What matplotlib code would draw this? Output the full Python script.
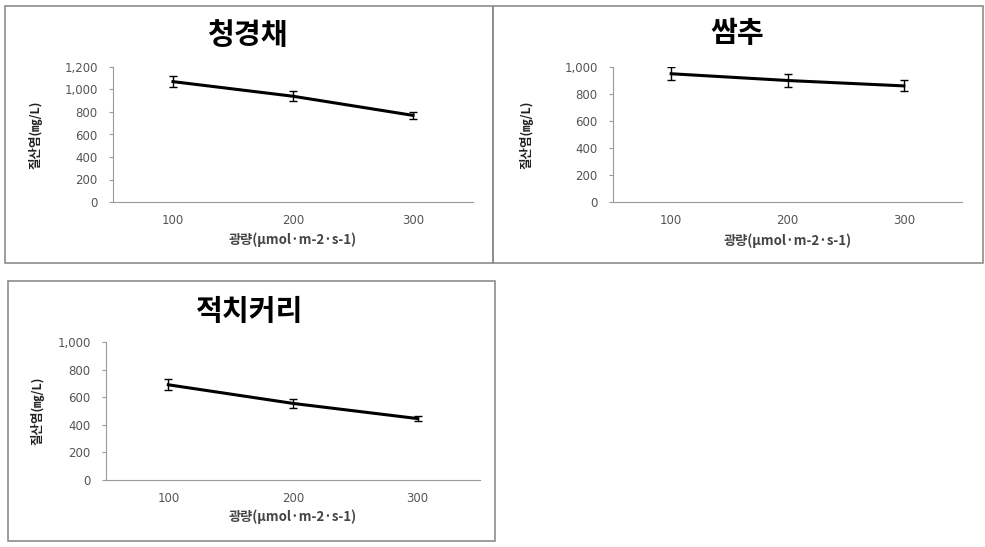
import matplotlib
matplotlib.use("Agg")
import matplotlib.pyplot as plt
from matplotlib.patches import Rectangle

plt.rcParams['font.family'] = ['Noto Sans CJK KR', 'DejaVu Sans']

W, H = 985, 547

light = ['100', '200', '300']

# 청경채
cg_mean = [1070, 940, 770]
cg_err = [50, 45, 30]
# 쌈추
ss_mean = [950, 900, 860]
ss_err = [50, 45, 40]
# 적치커리
cc_mean = [690, 555, 445]
cc_err = [40, 30, 20]

titles = ['청경채', '쌈추', '적치커리']
ylims = [1200, 1000, 1000]

# panel box (left, top, right, bottom) in px, axes box, title pos, ylabel x, xlabel y
panels = [
    dict(box=(5, 6, 493, 263), ax=(113, 67, 473, 202), title=(247, 35), ylab=35, xlab=240),
    dict(box=(493, 6, 983, 263), ax=(613, 67, 962, 202), title=(737, 33), ylab=526, xlab=241),
    dict(box=(8, 281, 495, 541), ax=(106, 342, 480, 480), title=(250, 311), ylab=37, xlab=517),
]
series = [(cg_mean, cg_err), (ss_mean, ss_err), (cc_mean, cc_err)]

fig = plt.figure(figsize=(W / 100, H / 100), dpi=100)

for p, (m, e), title, ymax in zip(panels, series, titles, ylims):
    l, t, r, b = p['box']
    fig.patches.append(Rectangle((l / W, 1 - b / H), (r - l) / W, (b - t) / H,
                                 transform=fig.transFigure, fill=False,
                                 edgecolor='#8c8c8c', linewidth=1.2))
    al, at, ar, ab = p['ax']
    ax = fig.add_axes([al / W, 1 - ab / H, (ar - al) / W, (ab - at) / H])
    x = range(len(light))
    ax.errorbar(x, m, yerr=e, color='black', linewidth=2.2, capsize=3,
                elinewidth=1, capthick=1)
    ax.set_xlim(-0.5, 2.5)
    ax.set_ylim(0, ymax)
    ax.set_yticks(range(0, ymax + 1, 200))
    ax.set_yticklabels([f'{v:,}' for v in range(0, ymax + 1, 200)],
                       family='DejaVu Sans')
    ax.set_xticks(list(x))
    ax.set_xticklabels(light, family='DejaVu Sans')
    for s in ['top', 'right']:
        ax.spines[s].set_visible(False)
    for s in ['left', 'bottom']:
        ax.spines[s].set_color('#9a9a9a')
        ax.spines[s].set_linewidth(0.8)
    ax.tick_params(axis='y', length=3, color='#9a9a9a', labelsize=8.5,
                   labelcolor='#555555', pad=8)
    ax.tick_params(axis='x', length=0, labelsize=8.5, labelcolor='#555555', pad=9)
    ax.set_xlabel('광량(μmol·m-2·s-1)', fontsize=9.5, color='#444444',
                  fontweight='bold')
    ax.xaxis.set_label_coords(0.5, -(p['xlab'] - ab) / (ab - at), transform=ax.transAxes)
    ax.set_ylabel('질산염(㎎/L)', fontsize=9, color='#222222', fontweight='bold')
    ax.yaxis.set_label_coords((p['ylab'] - al) / (ar - al), 0.5, transform=ax.transAxes)
    ax.xaxis.label.set_va('center')
    ax.yaxis.label.set_va('center')
    fig.text(p['title'][0] / W, 1 - p['title'][1] / H, title, fontsize=21,
             fontweight='bold', ha='center', va='center')

fig.savefig('out.png', dpi=100)
